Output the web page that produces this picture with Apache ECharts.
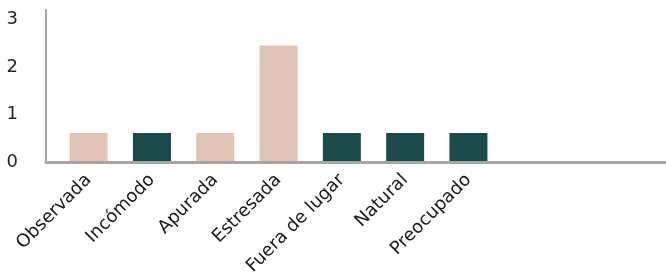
<!DOCTYPE html>
<html>
<head>
<meta charset="utf-8">
<script src="https://cdn.jsdelivr.net/npm/echarts@6/dist/echarts.min.js"></script>
<style>html,body{margin:0;padding:0;background:#fff;overflow:hidden;width:666px;height:278px}#c{width:690px;height:278px}</style>
</head>
<body>
<div id="c"></div>
<script>
const categories = ['Observada', 'Incómodo', 'Apurada', 'Estresada', 'Fuera de lugar', 'Natural', 'Preocupado', '', '', ''];
const values = [0.6, 0.6, 0.6, 2.45, 0.6, 0.6, 0.6];
const groups = ['A', 'B', 'A', 'A', 'B', 'B', 'B'];
const yTicks = [0, 1, 2, 3];

const groupColor = { A: '#e2c3b7', B: '#1b4a4a' };
const font = 'DejaVu Sans';

const chart = echarts.init(document.getElementById('c'), null, { renderer: 'canvas' });
chart.setOption({
  animation: false,
  backgroundColor: '#fff',
  grid: [
    { left: 46, right: 0, top: 10, bottom: 116 },
    { left: 57, right: 0, top: 10, bottom: 116 }
  ],
  xAxis: [
    { gridIndex: 0, type: 'value', min: 0, max: 1, z: 5,
      axisLine: { show: true, lineStyle: { color: '#a6a6a6', width: 3 } },
      axisTick: { show: false }, axisLabel: { show: false }, splitLine: { show: false } },
    { gridIndex: 1, type: 'category', data: categories,
      axisLine: { show: false }, axisTick: { show: false }, splitLine: { show: false },
      axisLabel: { interval: 0, rotate: 45, margin: 16, fontFamily: font, fontSize: 18, color: '#1a1a1a' } }
  ],
  yAxis: [
    { gridIndex: 0, type: 'value', min: 0, max: 3.2, interval: 1, z: 5,
      axisLine: { show: true, lineStyle: { color: '#a6a6a6', width: 2 } },
      axisTick: { show: false }, splitLine: { show: false },
      axisLabel: { margin: 28, fontFamily: font, fontSize: 18, color: '#262626',
        formatter: v => (yTicks.indexOf(v) >= 0 ? String(v) : '') } },
    { gridIndex: 1, type: 'value', min: 0, max: 3.2, show: false }
  ],
  series: [{
    type: 'bar', xAxisIndex: 1, yAxisIndex: 1, barWidth: 38,
    data: values.map((v, i) => ({ value: v, itemStyle: { color: groupColor[groups[i]] } }))
  }]
});
</script>
</body>
</html>
